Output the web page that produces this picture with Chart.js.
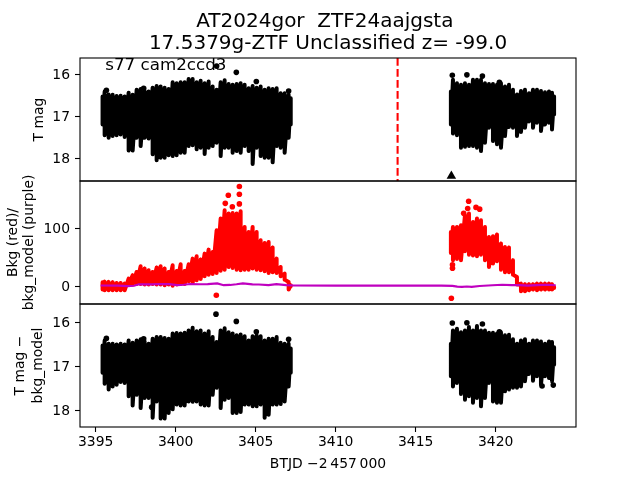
<!DOCTYPE html>
<html>
<head>
<meta charset="UTF-8">
<title>AT2024gor</title>
<script src="https://cdn.jsdelivr.net/npm/chart.js@4"></script>
<style>
  html, body { margin: 0; padding: 0; background: #fff; }
  canvas { display: block; }
</style>
</head>
<body>
<canvas id="chart" width="640" height="480"></canvas>
<script>
// sample times of the two observing stretches
const timesA = [3395.43,3395.56,3395.81,3396.06,3396.31,3396.56,3396.81,3397.06,3397.31,3397.56,3397.81,3398.06,3398.31,3398.56,3398.81,3399.06,3399.31,3399.56,3399.81,3400.06,3400.31,3400.56,3400.81,3401.06,3401.31,3401.56,3401.81,3402.06,3402.31,3402.56,3402.81,3403.06,3403.31,3403.56,3403.81,3404.06,3404.31,3404.56,3404.81,3405.06,3405.31,3405.56,3405.81,3406.06,3406.31,3406.56,3406.81,3407.06,3407.19];
const timesB = [3417.2,3417.33,3417.58,3417.83,3418.08,3418.33,3418.58,3418.83,3419.08,3419.33,3419.58,3419.83,3420.08,3420.33,3420.58,3420.83,3421.08,3421.33,3421.58,3421.83,3422.08,3422.33,3422.58,3422.83,3423.08,3423.33,3423.52,3423.65];

// panel 1: T mag
const magHighA = [16.52,16.40,16.47,16.48,16.51,16.50,16.52,16.43,16.48,16.36,16.34,16.39,16.40,16.31,16.27,16.28,16.31,16.34,16.18,16.20,16.18,16.18,16.10,16.10,16.18,16.14,16.20,16.16,16.28,16.36,16.18,16.13,16.22,16.24,16.22,16.20,16.24,16.32,16.27,16.31,16.28,16.36,16.32,16.34,16.32,16.44,16.44,16.48,16.56];
const magLowA = [17.19,17.45,17.51,17.47,17.45,17.43,17.49,17.82,17.82,17.51,17.71,17.51,17.53,17.91,18.05,17.99,17.99,17.93,17.95,17.93,17.87,17.87,17.71,17.69,17.79,17.75,17.90,17.75,17.71,17.63,17.95,17.75,17.75,17.87,17.83,17.87,17.71,17.83,18.14,17.75,17.95,17.99,17.99,18.10,17.71,17.75,17.87,17.51,17.19];
const magHighB = [16.40,16.12,16.20,16.24,16.20,16.24,16.12,16.12,16.12,16.20,16.22,16.22,16.24,16.20,16.28,16.24,16.36,16.47,16.39,16.36,16.44,16.36,16.36,16.39,16.42,16.40,16.43,16.52];
const magLowB = [17.19,17.41,17.45,17.75,17.73,17.71,17.71,17.75,17.83,17.63,17.27,17.59,17.67,17.75,17.47,17.25,17.27,17.47,17.37,17.27,17.12,17.27,17.15,17.35,17.19,17.15,17.31,16.95];
const magDotTimes = [3395.67,3398.0,3402.56,3403.79,3405.04,3407.06,3417.29,3418.2,3419.17,3420.23];
const magDots = [16.37,16.32,15.79,15.94,16.16,16.39,16.01,16.0,16.03,16.18];
const triangleTimes = [3417.23];
const triangleMags = [18.43];
const eventTime = 3413.87;

// panel 2: background (red) and background model (purple)
const bkgHighA = [6.9,8.0,7.5,6.9,5.7,5.7,4.6,13.2,19,24.7,34.5,30.5,27.6,24.7,32.2,34.5,30.5,24.7,36.2,26.4,37.9,26.4,37.9,47.7,51.7,46,56.3,63.2,59.2,96.6,116.7,131,125.3,126.4,125.3,129.3,102.3,93.7,102.3,93.7,79.3,74.7,76.4,66.7,47.7,33.3,21.8,7.5,1.7];
const bkgLowA = [-5.7,-6.9,-6.9,-6.9,-6.9,-6.9,-6.9,2.9,2.9,4,4,2.9,2.9,4,2.9,2.9,1.7,2.9,1.1,2.9,4,4,8.6,5.7,10.3,12.6,17.2,20.1,21.3,23,27,28.7,33.3,31.6,28.7,27.6,28.7,28.7,30.5,28.7,27.6,25.9,23,24.1,23,17.2,11.5,-5.7,0];
const bkgHighB = [93.7,102.3,102.3,105.2,122.4,125.3,110.9,116.7,113.8,102.3,85.1,86.2,89.1,73.6,67.8,66.7,44.8,16.1,4.6,3.4,3.4,3.4,4.6,4.6,4.6,4.6,3.4,-1.1];
const bkgLowB = [57.5,44.8,47.1,44.8,60.3,54.6,52.9,51.7,54.6,44.8,33.3,39.1,43.1,28.7,24.1,24.1,20.1,2.9,-8.6,-8.6,-6.9,-5.7,-6.9,-5.7,-5.7,-5.7,-5.7,-2.9];
const bkgDotTimes = [3402.54,3403.98,3403.98,3403.98,3403.29,3403.54,3403.1,3417.23,3418.31,3418.25,3418.77,3419.0,3418.0,3417.3,3417.3];
const bkgDots = [-15.5,172,158.6,142,157,137,143,-20.7,146.6,134,136,133,126,37,31];
const modelTimes = [3395.31,3396.4,3397.0,3397.4,3397.7,3398.5,3399.0,3399.6,3400.1,3400.5,3400.9,3401.5,3402,3402.6,3403,3403.4,3403.8,3404.2,3404.8,3405.2,3405.8,3406.3,3406.9,3407.3,3410,3415,3416.6,3417.3,3417.6,3417.9,3418.2,3418.5,3419,3419.8,3420.4,3421,3421.5,3422,3422.6,3423.2,3423.75];
const modelValues = [1.5,1.2,0.3,1,3.5,3.3,4,3.8,2,2.6,4,3.5,3.7,5,2,2.4,3.5,5,3.3,3,2,3.8,2,1.6,1.2,1.2,1.2,0.7,-0.6,-1,-0.4,-1,0.6,1.7,2.7,2,2,1.2,2,2.6,1.8];

// panel 3: T mag - bkg_model
const corrHighA = [16.53,16.42,16.49,16.49,16.51,16.49,16.51,16.42,16.47,16.42,16.39,16.44,16.49,16.38,16.34,16.34,16.36,16.38,16.26,16.25,16.26,16.24,16.19,16.13,16.21,16.19,16.26,16.21,16.34,16.45,16.19,16.14,16.23,16.26,16.30,16.28,16.32,16.42,16.32,16.30,16.32,16.42,16.38,16.38,16.34,16.47,16.49,16.49,16.60];
const corrLowA = [17.15,17.40,17.53,17.46,17.42,17.36,17.38,17.68,17.89,17.65,17.95,17.72,17.72,18.17,17.80,18.19,18.19,18.06,17.98,17.87,17.89,17.89,17.80,17.81,17.80,17.87,17.89,17.89,17.65,17.49,17.95,17.76,17.72,18.06,18.06,18.04,17.87,17.87,17.91,17.91,17.87,18.17,18.10,17.87,17.87,17.86,17.80,17.46,17.15];
const corrHighB = [16.49,16.19,16.15,16.23,16.19,16.11,16.19,16.09,16.19,16.19,16.24,16.24,16.26,16.23,16.30,16.29,16.39,16.49,16.42,16.39,16.49,16.42,16.42,16.44,16.49,16.44,16.45,16.57];
const corrLowB = [17.23,17.46,17.38,17.63,17.76,17.68,17.83,17.72,17.91,17.72,17.38,17.80,17.83,17.83,17.57,17.53,17.49,17.49,17.46,17.34,17.18,17.33,17.23,17.42,17.23,17.27,17.34,16.97];
const corrDotTimes = [3395.67,3398.0,3398.5,3402.52,3403.79,3405.04,3407.06,3417.29,3418.2,3419.17,3420.23,3422.9,3423.6];
const corrDots = [16.37,16.38,17.93,15.82,15.985,16.22,16.39,16.02,16.015,16.045,16.22,17.45,17.43];

// ticks and labels
const xTicks = [3395,3400,3405,3410,3415,3420];
const magTicks = [16,17,18];
const bkgTicks = [0,100];
const titleLines = ['AT2024gor  ZTF24aajgsta ', '17.5379g-ZTF Unclassified z= -99.0'];
const note = 's77 cam2ccd3';

const font = 'DejaVu Sans';

// high-low strokes one after the other, the thick line fills the band in
function band(times, high, low) {
  const pts = [];
  times.forEach((t, i) => {
    pts.push({ x: t, y: high[i] }, { x: t, y: low[i] });
  });
  return pts;
}

function bandSet(times, high, low, color, yAxisID) {
  return {
    data: band(times, high, low),
    yAxisID,
    showLine: true,
    borderColor: color,
    borderWidth: 4,
    borderCapStyle: 'round',
    borderJoinStyle: 'round',
    pointRadius: 0,
    order: 5
  };
}

function dotSet(times, values, color, yAxisID) {
  return {
    data: times.map((t, i) => ({ x: t, y: values[i] })),
    yAxisID,
    showLine: false,
    pointRadius: 2.8,
    pointBorderWidth: 0,
    pointBackgroundColor: color,
    order: 3
  };
}

const panelFrame = {
  id: 'panelFrame',
  afterDatasetsDraw(chart) {
    const { ctx, scales } = chart;
    const { left, right } = chart.chartArea;

    // text note, placed in data units of the top panel
    ctx.save();
    ctx.font = `16.7px "${font}"`;
    ctx.fillStyle = '#000';
    ctx.textBaseline = 'alphabetic';
    ctx.fillText(note, scales.x.getPixelForValue(3395.6), scales.y1.getPixelForValue(15.89));

    // event marker
    const ex = scales.x.getPixelForValue(eventTime);
    ctx.strokeStyle = '#ff0000';
    ctx.lineWidth = 2.08;
    ctx.setLineDash([7.7, 3.3]);
    ctx.beginPath();
    ctx.moveTo(ex, scales.y1.top);
    ctx.lineTo(ex, scales.y1.bottom);
    ctx.stroke();
    ctx.setLineDash([]);

    ctx.strokeStyle = '#000';
    ctx.lineWidth = 1.1;
    ['y1', 'y2', 'y3'].forEach(id => {
      const s = scales[id];
      ctx.strokeRect(left, s.top, right - left, s.bottom - s.top);
    });
    ctx.restore();
  }
};

function yScale(ticks, min, max, reverse, weight, text, pad, lineHeight) {
  return {
    type: 'linear',
    position: 'left',
    stack: 'panels',
    stackWeight: 1,
    weight,
    reverse,
    min,
    max,
    afterFit: s => { s.width = 80; },
    afterBuildTicks: s => { s.ticks = ticks.map(v => ({ value: v })); },
    border: { display: false },
    grid: { drawOnChartArea: false, color: '#000', tickLength: 5, tickWidth: 1.1 },
    ticks: { color: '#000', font: { family: font, size: 13.9 }, padding: 5, labelOffset: 1, callback: v => String(v) },
    title: { display: true, text, color: '#000', font: { family: font, size: 13.9, lineHeight }, padding: { top: pad, bottom: 0 } }
  };
}

new Chart(document.getElementById('chart'), {
  type: 'scatter',
  data: {
    datasets: [
      Object.assign(dotSet(triangleTimes, triangleMags, '#000', 'y1'), { pointStyle: 'triangle', pointRadius: 5.5 }),
      {
        data: modelTimes.map((t, i) => ({ x: t, y: modelValues[i] })),
        yAxisID: 'y2',
        showLine: true,
        borderColor: '#bf00bf',
        borderWidth: 2.08,
        pointRadius: 0,
        order: 1
      },
      dotSet(magDotTimes, magDots, '#000', 'y1'),
      bandSet(timesA, magHighA, magLowA, '#000', 'y1'),
      bandSet(timesB, magHighB, magLowB, '#000', 'y1'),
      dotSet(bkgDotTimes, bkgDots, '#ff0000', 'y2'),
      bandSet(timesA, bkgHighA, bkgLowA, '#ff0000', 'y2'),
      bandSet(timesB, bkgHighB, bkgLowB, '#ff0000', 'y2'),
      dotSet(corrDotTimes, corrDots, '#000', 'y3'),
      bandSet(timesA, corrHighA, corrLowA, '#000', 'y3'),
      bandSet(timesB, corrHighB, corrLowB, '#000', 'y3')
    ]
  },
  options: {
    responsive: false,
    animation: false,
    layout: { padding: { left: 0, right: 64, top: 0, bottom: 0 } },
    plugins: {
      legend: { display: false },
      tooltip: { enabled: false },
      title: {
        display: true,
        fullSize: false,
        text: titleLines,
        color: '#000',
        font: { family: font, size: 20, weight: 'normal', lineHeight: 1.1 },
        padding: { top: 11, bottom: 3 }
      }
    },
    scales: {
      x: {
        type: 'linear',
        position: 'bottom',
        min: 3394.02,
        max: 3425.02,
        afterFit: s => { s.height = 53; },
        afterBuildTicks: s => { s.ticks = xTicks.map(v => ({ value: v })); },
        border: { display: false },
        grid: { drawOnChartArea: false, color: '#000', tickLength: 5, tickWidth: 1.1 },
        ticks: { color: '#000', font: { family: font, size: 13.9 }, padding: 2, maxRotation: 0, callback: v => String(v) },
        title: { display: true, text: 'BTJD \u22122\u2009457\u2009000', color: '#000', font: { family: font, size: 13.9 }, padding: { top: 3, bottom: 7 } }
      },
      y1: yScale(magTicks, 15.595, 18.55, true, 3, 'T mag', 30.7, 1.2),
      y2: yScale(bkgTicks, -30.5, 181.5, false, 2, ['Bkg (red)/', 'bkg_model (purple)'], 5.3, 1.15),
      y3: yScale(magTicks, 15.59, 18.38, true, 1, ['T mag \u2212', 'bkg_model'], 11, 1.3)
    }
  },
  plugins: [panelFrame]
});
</script>
</body>
</html>
